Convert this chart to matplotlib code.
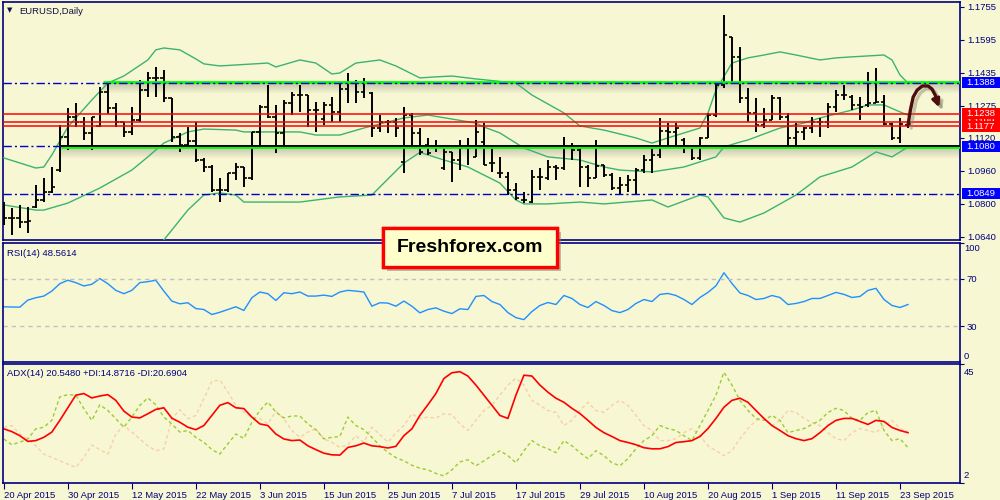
import numpy as np
import matplotlib
matplotlib.use("Agg")
import matplotlib.pyplot as plt
import matplotlib.patheffects as pe
from matplotlib.patches import Rectangle, FancyArrowPatch
from matplotlib.path import Path
from matplotlib import transforms

plt.rcParams['font.family'] = ['Liberation Sans', 'DejaVu Sans']

# EURUSD daily bars, 20 Apr 2015 .. 24 Sep 2015
opens = [1.0795, 1.0732, 1.0732, 1.0712, 1.0785, 1.0819, 1.0858, 1.0965, 1.1125, 1.1222,
         1.1197, 1.1144, 1.1178, 1.1343, 1.1265, 1.1197, 1.1149, 1.1207, 1.1352, 1.1411,
         1.1411, 1.1314, 1.1125, 1.1086, 1.1105, 1.1013, 1.0979, 1.0867, 1.0867, 1.0950,
         1.0979, 1.0926, 1.1149, 1.1270, 1.1222, 1.1144, 1.1289, 1.1328, 1.1328, 1.1255,
         1.1212, 1.1280, 1.1246, 1.1357, 1.1386, 1.1343, 1.1338, 1.1168, 1.1197, 1.1197,
         1.1003, 1.1231, 1.1144, 1.1086, 1.1076, 1.0974, 1.1052, 1.1013, 1.1071, 1.1028,
         1.1100, 1.0998, 1.0950, 1.0931, 1.0867, 1.0819, 1.0809, 1.0931, 1.0926, 1.0979,
         1.0974, 1.1081, 1.1061, 1.0979, 1.0926, 1.0989, 1.0940, 1.0877, 1.0892, 1.0916,
         1.0964, 1.1013, 1.1037, 1.1154, 1.1149, 1.1110, 1.1076, 1.1023, 1.1120, 1.1231,
         1.1377, 1.1610, 1.1513, 1.1314, 1.1241, 1.1183, 1.1207, 1.1314, 1.1222, 1.1120,
         1.1149, 1.1168, 1.1197, 1.1197, 1.1270, 1.1328, 1.1319, 1.1280, 1.1280, 1.1289,
         1.1294, 1.1188, 1.1120, 1.1183]
highs = [1.0809, 1.0780, 1.0795, 1.0785, 1.0892, 1.0926, 1.0979, 1.1183, 1.1265, 1.1289,
         1.1222, 1.1222, 1.1367, 1.1391, 1.1289, 1.1197, 1.1270, 1.1401, 1.1440, 1.1464,
         1.1449, 1.1314, 1.1144, 1.1173, 1.1197, 1.1023, 1.0989, 1.0926, 1.0950, 1.0998,
         1.0979, 1.1149, 1.1280, 1.1377, 1.1280, 1.1304, 1.1343, 1.1377, 1.1328, 1.1294,
         1.1294, 1.1319, 1.1386, 1.1435, 1.1401, 1.1411, 1.1343, 1.1231, 1.1207, 1.1217,
         1.1270, 1.1241, 1.1168, 1.1120, 1.1110, 1.1086, 1.1052, 1.1110, 1.1120, 1.1207,
         1.1192, 1.1076, 1.1028, 1.0955, 1.0901, 1.0858, 1.0964, 1.0974, 1.1013, 1.0989,
         1.1125, 1.1095, 1.1086, 1.0989, 1.1110, 1.0989, 1.0950, 1.0931, 1.0940, 1.0974,
         1.1037, 1.1086, 1.1217, 1.1192, 1.1192, 1.1120, 1.1086, 1.1125, 1.1241, 1.1386,
         1.1716, 1.1610, 1.1561, 1.1362, 1.1314, 1.1265, 1.1328, 1.1319, 1.1241, 1.1192,
         1.1173, 1.1222, 1.1217, 1.1289, 1.1352, 1.1377, 1.1328, 1.1319, 1.1440, 1.1459,
         1.1328, 1.1192, 1.1217, 1.1197]
lows = [1.0698, 1.0649, 1.0683, 1.0659, 1.0780, 1.0809, 1.0853, 1.0955, 1.1061, 1.1173,
        1.1110, 1.1061, 1.1173, 1.1236, 1.1173, 1.1125, 1.1134, 1.1197, 1.1319, 1.1319,
        1.1294, 1.1100, 1.1052, 1.1076, 1.1003, 1.0955, 1.0858, 1.0809, 1.0858, 1.0916,
        1.0882, 1.0916, 1.1076, 1.1217, 1.1047, 1.1076, 1.1231, 1.1246, 1.1173, 1.1149,
        1.1183, 1.1197, 1.1197, 1.1289, 1.1289, 1.1314, 1.1125, 1.1149, 1.1144, 1.1125,
        1.0950, 1.1071, 1.1037, 1.1037, 1.1052, 1.0964, 1.0906, 1.0964, 1.0989, 1.1028,
        1.0989, 1.0955, 1.0926, 1.0843, 1.0819, 1.0804, 1.0804, 1.0867, 1.0916, 1.0916,
        1.0964, 1.1013, 1.0882, 1.0882, 1.0926, 1.0931, 1.0867, 1.0843, 1.0858, 1.0843,
        1.0950, 1.0950, 1.1023, 1.1076, 1.1076, 1.1047, 1.1013, 1.1013, 1.1120, 1.1222,
        1.1362, 1.1391, 1.1289, 1.1197, 1.1149, 1.1168, 1.1207, 1.1207, 1.1076, 1.1076,
        1.1110, 1.1144, 1.1125, 1.1168, 1.1246, 1.1304, 1.1255, 1.1207, 1.1270, 1.1289,
        1.1183, 1.1110, 1.1095, 1.1168]
closes = [1.0732, 1.0732, 1.0712, 1.0717, 1.0819, 1.0858, 1.0882, 1.1125, 1.1222, 1.1197,
          1.1144, 1.1222, 1.1343, 1.1265, 1.1197, 1.1149, 1.1207, 1.1352, 1.1411, 1.1411,
          1.1314, 1.1125, 1.1086, 1.1105, 1.1013, 1.0979, 1.0867, 1.0867, 1.0950, 1.0979,
          1.0926, 1.1149, 1.1270, 1.1222, 1.1144, 1.1289, 1.1328, 1.1328, 1.1255, 1.1255,
          1.1280, 1.1246, 1.1357, 1.1386, 1.1343, 1.1386, 1.1168, 1.1197, 1.1197, 1.1168,
          1.1231, 1.1144, 1.1052, 1.1047, 1.1076, 1.1052, 1.1013, 1.1071, 1.1071, 1.1149,
          1.0989, 1.0998, 1.0950, 1.0867, 1.0829, 1.0819, 1.0931, 1.0931, 1.0979, 1.0974,
          1.1081, 1.1061, 1.0979, 1.0926, 1.0984, 1.0940, 1.0877, 1.0892, 1.0916, 1.0964,
          1.1013, 1.1037, 1.1154, 1.1149, 1.1168, 1.1076, 1.1023, 1.1120, 1.1231, 1.1377,
          1.1619, 1.1513, 1.1314, 1.1241, 1.1183, 1.1207, 1.1314, 1.1222, 1.1120, 1.1149,
          1.1168, 1.1197, 1.1197, 1.1270, 1.1328, 1.1328, 1.1280, 1.1270, 1.1289, 1.1294,
          1.1188, 1.1120, 1.1188, 1.1188]

# Bollinger bands, read at selected bars
upper_idx = [0, 4, 5, 6, 8, 11, 13, 15, 18, 19, 20, 22, 24, 25, 27, 33, 34, 37, 39, 41,
             42, 44, 47, 49, 52, 54, 56, 59, 64, 66, 70, 72, 75, 79, 81, 83, 87, 88, 89, 91,
             93, 95, 97, 99, 102, 104, 106, 110, 111, 112, 113]
upper = [1.1023, 1.0974, 1.0979, 1.1037, 1.1173, 1.1304, 1.1386, 1.1420, 1.1498, 1.1547,
         1.1556, 1.1547, 1.1503, 1.1479, 1.1469, 1.1483, 1.1464, 1.1498, 1.1483, 1.1430,
         1.1435, 1.1483, 1.1498, 1.1469, 1.1411, 1.1416, 1.1420, 1.1406, 1.1386, 1.1328,
         1.1241, 1.1178, 1.1158, 1.1120, 1.1095, 1.1120, 1.1168, 1.1241, 1.1352, 1.1483,
         1.1508, 1.1522, 1.1537, 1.1522, 1.1498, 1.1508, 1.1513, 1.1522, 1.1498, 1.1425,
         1.1386]
middle_idx = [0, 4, 5, 8, 12, 16, 18, 20, 23, 25, 29, 30, 33, 37, 39, 42, 45, 50, 53, 59,
              60, 62, 65, 68, 72, 75, 77, 81, 85, 89, 90, 92, 93, 97, 100, 102, 106, 108,
              110, 112, 113]
middle = [1.0795, 1.0770, 1.0770, 1.0804, 1.0877, 1.0964, 1.1028, 1.1095, 1.1149, 1.1163,
          1.1158, 1.1149, 1.1149, 1.1149, 1.1134, 1.1134, 1.1168, 1.1217, 1.1231, 1.1192,
          1.1173, 1.1144, 1.1071, 1.1028, 1.1013, 1.0979, 1.0964, 1.0955, 1.0979, 1.1028,
          1.1076, 1.1100, 1.1110, 1.1168, 1.1192, 1.1217, 1.1255, 1.1280, 1.1280, 1.1246,
          1.1231]
lower_idx = [0, 4, 8, 12, 16, 20, 23, 25, 27, 29, 30, 33, 37, 42, 46, 47, 50, 52, 55, 58,
             62, 64, 65, 68, 72, 75, 81, 83, 87, 88, 90, 92, 95, 99, 102, 104, 106, 109,
             111, 113]
lower = [1.0567, 1.0566, 1.0435, 1.0450, 1.0490, 1.0625, 1.0770, 1.0843, 1.0853, 1.0843,
         1.0809, 1.0809, 1.0809, 1.0834, 1.0843, 1.0882, 1.0998, 1.1050, 1.1013, 1.0979,
         1.0901, 1.0819, 1.0800, 1.0800, 1.0809, 1.0800, 1.0819, 1.0785, 1.0843, 1.0834,
         1.0732, 1.0712, 1.0756, 1.0843, 1.0931, 1.0955, 1.0979, 1.1052, 1.1028, 1.1076]

rsi = [46.4, 46.2, 46.1, 52.0, 54.0, 55.4, 59.6, 65.8, 68.7, 66.7,
       63.9, 65.3, 70.1, 65.8, 60.2, 57.4, 60.2, 66.7, 67.5, 68.7,
       59.6, 51.2, 48.9, 49.8, 44.9, 44.1, 39.9, 41.8, 44.1, 46.4,
       43.3, 54.0, 58.8, 57.4, 51.7, 58.2, 57.4, 58.8, 55.4, 55.4,
       56.2, 55.1, 58.8, 60.2, 59.6, 58.8, 46.9, 49.8, 49.5, 46.9,
       51.2, 46.9, 41.3, 44.1, 45.5, 42.7, 40.7, 44.7, 44.1, 55.1,
       55.9, 50.8, 48.3, 41.5, 37.3, 35.6, 42.4, 47.5, 50.0, 48.3,
       55.9, 53.4, 48.3, 45.8, 50.8, 47.5, 43.2, 41.5, 44.1, 49.2,
       52.5, 50.8, 56.8, 57.6, 55.9, 52.5, 48.3, 54.2, 58.5, 64.0,
       75.0, 66.0, 58.0, 55.9, 52.5, 53.4, 55.9, 54.2, 48.3, 49.2,
       50.8, 53.4, 53.4, 55.9, 58.5, 56.8, 54.2, 55.1, 60.2, 61.9,
       52.5, 47.5, 45.8, 48.3]
adx = [21.8, 20.8, 19.3, 17.2, 17.5, 18.7, 20.6, 24.9, 29.5, 34.1,
       34.7, 33.1, 33.8, 34.3, 32.2, 28.3, 26.1, 25.8, 27.3, 28.9,
       29.5, 25.7, 24.2, 22.4, 21.5, 23.0, 26.7, 30.4, 31.4, 29.5,
       29.2, 26.1, 23.6, 23.0, 19.9, 18.1, 17.5, 17.7, 15.6, 14.2,
       12.9, 12.3, 12.2, 15.0, 15.6, 16.6, 15.6, 15.3, 14.8, 15.4,
       19.3, 21.8, 26.7, 30.6, 34.7, 40.2, 42.3, 42.7, 41.1, 37.8,
       34.1, 30.4, 26.7, 25.6, 34.1, 41.4, 41.1, 37.8, 35.2, 33.0,
       31.5, 29.3, 27.4, 24.9, 22.3, 20.4, 19.0, 17.5, 16.8, 16.0,
       14.9, 14.5, 14.5, 15.3, 16.8, 17.1, 17.5, 19.0, 21.9, 25.6,
       29.7, 32.2, 33.0, 31.5, 28.5, 25.6, 23.0, 21.2, 19.3, 18.2,
       17.5, 18.2, 20.4, 23.0, 24.9, 25.6, 25.6, 24.5, 23.4, 24.9,
       24.5, 22.3, 21.2, 20.4]
plus_di = [18.1, 16.0, 16.9, 18.1, 21.8, 22.4, 24.9, 33.5, 34.3, 34.1,
           29.2, 24.9, 30.6, 28.5, 25.5, 22.4, 26.1, 30.4, 33.1, 30.6,
           26.1, 23.6, 20.6, 21.2, 18.7, 16.9, 14.2, 12.6, 16.3, 19.9,
           18.3, 24.2, 28.5, 31.6, 27.9, 25.8, 26.5, 26.5, 23.6, 21.5,
           18.1, 18.7, 19.0, 26.1, 23.0, 21.5, 18.7, 15.6, 13.2, 11.3,
           10.1, 8.5, 7.4, 6.8, 5.5, 4.6, 6.8, 9.7, 10.5, 8.3,
           10.1, 12.0, 13.8, 12.0, 9.4, 13.8, 17.5, 15.6, 14.5, 13.1,
           17.5, 15.6, 13.1, 10.9, 13.8, 12.0, 9.4, 8.3, 10.9, 14.5,
           17.5, 19.3, 23.0, 21.9, 21.2, 19.3, 17.5, 23.0, 28.5, 34.1,
           42.5, 37.8, 32.2, 28.5, 25.6, 24.9, 26.7, 24.9, 20.4, 21.2,
           21.9, 23.4, 24.9, 27.8, 29.3, 28.5, 25.6, 24.9, 27.8, 28.5,
           21.2, 17.5, 18.2, 14.9]
minus_di = [22.4, 23.0, 19.9, 18.1, 15.6, 12.6, 11.3, 10.1, 8.9, 7.7,
            11.3, 15.9, 14.2, 12.6, 19.9, 23.0, 20.6, 18.1, 15.6, 13.8,
            14.4, 25.5, 28.8, 25.5, 26.7, 32.8, 39.2, 39.6, 35.3, 30.4,
            27.9, 26.1, 25.5, 23.6, 28.2, 25.5, 21.2, 18.7, 20.6, 21.8,
            18.1, 16.9, 15.0, 16.0, 19.3, 16.9, 22.4, 19.7, 16.9, 20.3,
            23.0, 27.3, 25.5, 26.1, 25.7, 27.3, 27.0, 23.6, 21.2, 24.9,
            28.5, 30.4, 34.1, 37.8, 40.3, 37.8, 32.2, 30.4, 28.5, 27.8,
            23.0, 24.9, 28.5, 31.5, 28.5, 27.8, 30.4, 32.2, 30.4, 26.7,
            23.0, 21.2, 17.5, 17.5, 18.2, 20.4, 21.9, 19.3, 15.6, 13.8,
            12.0, 13.8, 18.2, 21.9, 24.9, 25.6, 23.0, 24.9, 28.5, 27.8,
            25.6, 24.1, 23.0, 20.4, 18.2, 17.5, 20.4, 21.9, 21.2, 20.4,
            23.0, 24.9, 21.9, 20.7]

price_ticks = [1.1755, 1.1595, 1.1435, 1.1275, 1.1120, 1.0960, 1.0800, 1.0640]
date_idx = [0, 8, 16, 24, 32, 40, 48, 56, 64, 72, 80, 88, 96, 104, 112]
date_labels = ['20 Apr 2015', '30 Apr 2015', '12 May 2015', '22 May 2015', '3 Jun 2015',
               '15 Jun 2015', '25 Jun 2015', '7 Jul 2015', '17 Jul 2015', '29 Jul 2015',
               '10 Aug 2015', '20 Aug 2015', '1 Sep 2015', '11 Sep 2015', '23 Sep 2015']

resistance = 1.1388
support = 1.1080
low_level = 1.0849
red_levels = [1.1238, 1.1177]
hidden_level = 1.1199

bg = '#F7F7D3'
navy = '#00007F'
blue = '#0000FF'
band_c = '#3CB371'
dashdot = (0, (6, 2.2, 1.5, 2.2))


def fx(px):
    return px / 1000


def fy(py):
    return 1 - py / 500


fig = plt.figure(figsize=(10, 5), dpi=100, facecolor=bg)
ax = fig.add_axes([0.003, 0.52, 0.957, 0.476], facecolor=bg)
rsi_ax = fig.add_axes([0.003, 0.276, 0.957, 0.238], facecolor=bg)
adx_ax = fig.add_axes([0.003, 0.034, 0.957, 0.238], facecolor=bg)

for a in (ax, rsi_ax, adx_ax):
    for s in a.spines.values():
        s.set_color(navy)
        s.set_linewidth(1.2)
    a.yaxis.tick_right()
    a.tick_params(axis='y', direction='out', length=3, color=navy,
                  labelcolor=navy, labelsize=6.8, pad=2)
    a.tick_params(axis='x', bottom=False, labelbottom=False)

# main price panel
ax.set_ylim(1.0625, 1.1779)
px_unit = (1.1779 - 1.0625) / 238

x = np.arange(len(closes))
ax.plot(upper_idx, upper, color=band_c, lw=1, zorder=3)
ax.plot(middle_idx, middle, color=band_c, lw=1, zorder=3)
ax.plot(lower_idx, lower, color=band_c, lw=1, zorder=3)

ax.vlines(x, lows, highs, color='black', lw=1.4, zorder=4)
ax.hlines(opens, x - 0.42, x, color='black', lw=1.2, zorder=4)
ax.hlines(closes, x, x + 0.42, color='black', lw=1.2, zorder=4)


def shadow(a, x0, x1, y, depth):
    g = np.zeros((30, 1, 4))
    g[..., :3] = 0.35
    g[:, 0, 3] = np.linspace(0.32, 0, 30)
    a.imshow(g, extent=(x0, x1, y - depth, y), aspect='auto',
             interpolation='bilinear', zorder=2)


xmax = 119.5
shadow(ax, 12.4, xmax, resistance, 11 * px_unit)
shadow(ax, 7.1, xmax, support - px_unit, 12 * px_unit)

for lvl in red_levels + [hidden_level]:
    ax.axhline(lvl, color='#FF0000', lw=1.1, zorder=5)
ax.axhline(low_level, color='#0000CD', lw=1, ls=dashdot, zorder=5)
ax.hlines(resistance + 0.5 * px_unit, 12.4, xmax, color='#00FF00', lw=2, zorder=5)
ax.axhline(resistance - 0.5 * px_unit, color='#0000CD', lw=1, ls=dashdot, zorder=5)
ax.hlines(support, -0.1, 7.1, color='#0000CD', lw=1, linestyles=[dashdot], zorder=5)
ax.hlines(support - px_unit, 7.1, xmax, color='#00FF00', lw=2, zorder=5)
ax.hlines(support, 7.1, xmax, color='black', lw=1.4, zorder=5)

ax.set_xlim(-0.1, xmax)
ax.set_ylim(1.0625, 1.1779)
ax.set_yticks(price_ticks)
ax.set_yticklabels(['%.4f' % p for p in price_ticks])

# hand drawn arrow
arrow_pts = [(113.0, 1.1182), (113.3, 1.1255), (113.65, 1.1318), (114.15, 1.1352),
             (114.8, 1.1372), (115.5, 1.1372), (116.0, 1.1357), (116.4, 1.1328),
             (116.65, 1.1294), (116.9, 1.1268)]
shadow_pts = [(px + 0.4, py - 3 * px_unit) for px, py in arrow_pts]
ax.add_patch(FancyArrowPatch(path=Path(shadow_pts), arrowstyle='-|>', mutation_scale=11,
                             color='#888870', alpha=0.45, lw=2.4, zorder=6))
ax.add_patch(FancyArrowPatch(path=Path(arrow_pts), arrowstyle='-|>', mutation_scale=11,
                             color='#4E0E0E', lw=2.4, zorder=7))

# price tags on the right
tag_tr = transforms.blended_transform_factory(fig.transFigure, ax.transData)
tag_h = 11 * px_unit


def price_tag(price, color, clip=None):
    fig.add_artist(Rectangle((0.962, price - tag_h / 2), 0.038, tag_h, transform=tag_tr,
                             facecolor=color, edgecolor='none', zorder=10))
    t = fig.text(0.966, price, '%.4f' % price, transform=tag_tr, color='white',
                 va='center', ha='left', fontsize=6.8, zorder=11)
    if clip is not None:
        t.set_clip_path(clip)


price_tag(resistance, blue)
price_tag(support, blue)
price_tag(low_level, blue)
# the middle red tag is mostly covered by its neighbours: only a sliver shows
gap_lo = red_levels[1] + tag_h / 2
gap_hi = red_levels[0] - tag_h / 2
sliver = Rectangle((0.962, gap_lo), 0.038, gap_hi - gap_lo, transform=tag_tr)
price_tag(hidden_level, '#FF0000', clip=sliver)
for lvl in red_levels:
    price_tag(lvl, '#FF0000')

# RSI panel
rsi_ax.plot(x, rsi, color='#1E90FF', lw=1)
for lvl in (70, 30):
    rsi_ax.axhline(lvl, color='#C0C0C0', lw=1, ls=(0, (3, 3)))
rsi_ax.set_xlim(-0.1, xmax)
rsi_ax.set_ylim(0, 100)
rsi_ax.set_yticks([30, 70, 100])
rsi_ax.set_yticklabels(['30', '70', ''])
rsi_ax.text(1.004, 95, '100', transform=rsi_ax.get_yaxis_transform(), color=navy,
            fontsize=6.8, va='center')
rsi_ax.text(1.004, 5, '0', transform=rsi_ax.get_yaxis_transform(), color=navy,
            fontsize=6.8, va='center')

# ADX panel
adx_ax.plot(x, minus_di, color='#F8CFA8', lw=1, ls=(0, (2.5, 2)))
adx_ax.plot(x, plus_di, color='#9ACD32', lw=1, ls=(0, (2.5, 2)))
adx_ax.plot(x, adx, color='#FF0000', lw=1.2)
adx_ax.set_xlim(-0.1, xmax)
adx_ax.set_ylim(2, 45.5)
adx_ax.set_yticks([45.5, 2])
adx_ax.set_yticklabels(['', ''])
adx_ax.text(1.004, 42.5, '45', transform=adx_ax.get_yaxis_transform(), color=navy,
            fontsize=6.8, va='center')
adx_ax.text(1.004, 4.6, '2', transform=adx_ax.get_yaxis_transform(), color=navy,
            fontsize=6.8, va='center')
adx_ax.set_xticks(date_idx)
adx_ax.set_xticklabels(date_labels, ha='left')
adx_ax.tick_params(axis='x', bottom=True, labelbottom=True, direction='out', length=4,
                   color=navy, labelcolor=navy, labelsize=6.8, pad=1.5)

# captions
fig.text(fx(7), fy(10), '\u25bc', fontsize=5, color='#10104A', va='center',
         family='DejaVu Sans')
fig.text(fx(19), fy(11), 'EURUSD,Daily', fontsize=6.8, color='#10104A', va='center')
fig.text(fx(7), fy(253), 'RSI(14) 48.5614', fontsize=6.8, color=navy, va='center')
fig.text(fx(7), fy(374), 'ADX(14) 20.5480 +DI:14.8716 -DI:20.6904', fontsize=6.8,
         color=navy, va='center')

# logo box
logo = Rectangle((fx(383), fy(267)), 0.174, 0.078, transform=fig.transFigure,
                 facecolor='#FFFFCC', edgecolor='#FF0000', lw=2.4, zorder=20,
                 path_effects=[pe.withSimplePatchShadow(offset=(3, -3), shadow_rgbFace='#808070',
                                                        alpha=0.5), pe.Normal()])
fig.add_artist(logo)
fig.text(fx(470), fy(248), 'Freshforex.com', ha='center', va='center', fontsize=14,
         fontweight='bold', color='black', zorder=21)

plt.savefig('out.png', dpi=100, facecolor=bg)
